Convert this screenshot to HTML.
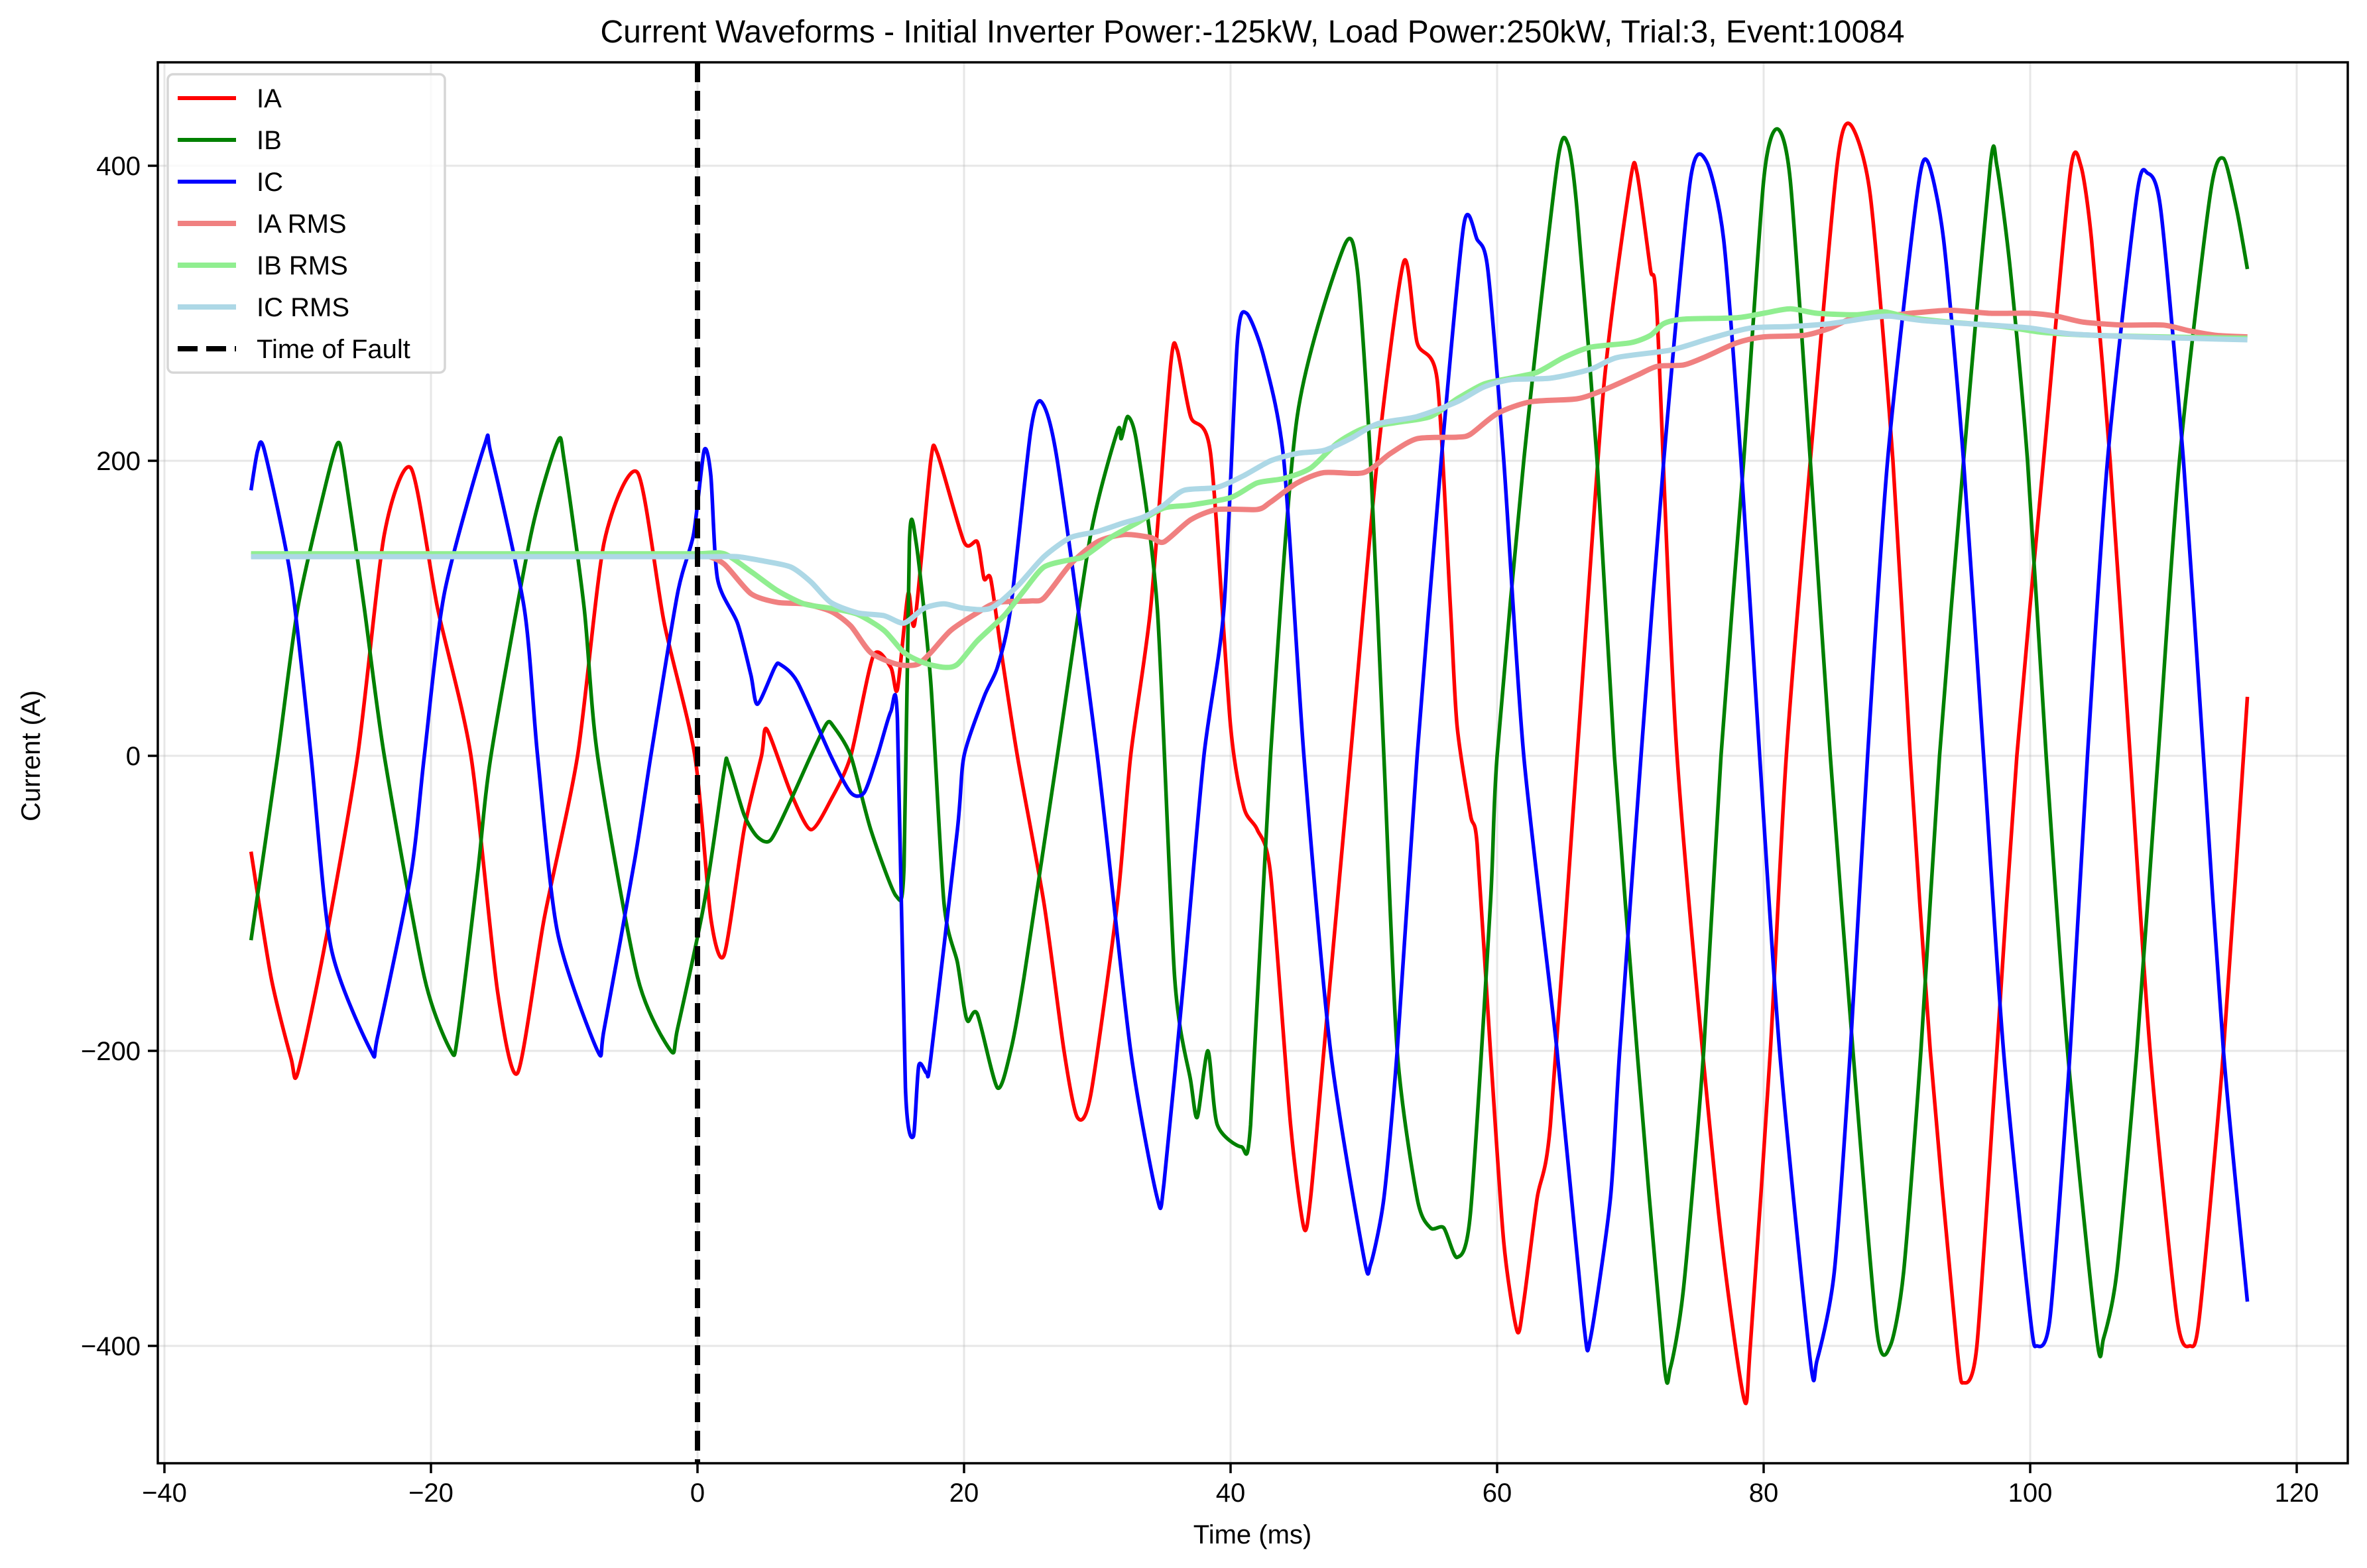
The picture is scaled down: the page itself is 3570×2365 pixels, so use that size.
<!DOCTYPE html>
<html><head><meta charset="utf-8"><style>
html,body{margin:0;padding:0;background:#fff}
svg{display:block;font-family:"Liberation Sans","DejaVu Sans",sans-serif}
</style></head><body>
<svg id="chart" width="3570" height="2365" viewBox="0 0 3570 2365" xmlns="http://www.w3.org/2000/svg">
<rect width="3570" height="2365" fill="#fff"/>
<g id="grid"></g>
<g id="plot" clip-path="url(#clip)"></g>
<defs><clipPath id="clip"><rect x="238" y="94" width="3303" height="2113"/></clipPath></defs>
<rect x="238" y="94" width="3303" height="2113" fill="none" stroke="#000" stroke-width="3.5"/>
<g id="ticks"></g>
<text x="1889" y="64" font-size="48" text-anchor="middle">Current Waveforms - Initial Inverter Power:-125kW, Load Power:250kW, Trial:3, Event:10084</text>
<text x="1889" y="2328" font-size="40" text-anchor="middle">Time (ms)</text>
<text x="60" y="1140" font-size="40" text-anchor="middle" transform="rotate(-90 60 1140)">Current (A)</text>
<g id="legend"></g>
</svg>
<script>
const xTicks=[-40,-20,0,20,40,60,80,100,120];
const yTicks=[-400,-200,0,200,400];
const faultTime=0;
const iaT=[-33.5,-32,-30.5,-30,-28,-25.5,-23.5,-21.5,-19.5,-17,-15,-13.5,-11.5,-9,-7,-4.5,-2.5,-0.2,1,2,3.5,4.8,5.2,7,8.5,10,11.5,13.2,14.5,15,15.8,16.3,17.5,18,20,21,21.5,22,22.8,24,26,27.5,28.5,29.5,31.5,32.5,34,35.5,36,37,38.5,40,41,42,43,44.5,45.5,46,47,49,51,53,54,55.5,56.5,57,58,58.5,59.5,60.5,61.5,62,63,64,66,68,70,70.5,71.5,72,73.5,76.5,78.5,79,80.5,81.7,83.5,85.5,86.5,88,89.7,91,92.5,94.5,95,96,97.5,99,101,103,103.8,104.6,106,107.5,109,111,112,112.7,114.5,116.3];
const iaV=[-65,-150,-205,-215,-130,0,150,195,100,0,-160,-215,-110,0,145,192,90,0,-110,-135,-50,0,18,-25,-50,-30,0,68,60,45,110,90,200,205,145,145,120,120,70,0,-100,-200,-245,-230,-100,0,100,265,275,230,205,20,-35,-50,-80,-250,-320,-300,-200,0,200,335,280,255,100,20,-40,-60,-200,-330,-390,-370,-300,-250,0,250,390,395,330,300,0,-300,-435,-400,-200,0,200,400,428,380,200,0,-200,-400,-425,-400,-200,0,200,395,400,350,200,0,-200,-380,-400,-380,-200,40];
const ibT=[-33.5,-31.5,-30,-28,-27,-26.5,-25,-23.5,-20.5,-18.5,-18,-16.5,-15.5,-12.5,-10.5,-10,-8.5,-7.5,-4.5,-2,-1.5,0.5,2,2.3,3.5,4.5,5.5,7,8.5,9.7,10.2,11.5,13,14.9,15.5,15.9,16.4,17.5,18.5,19.5,20,20.3,21,22.5,23.5,24.5,27,29.5,31.5,31.8,32.3,33,34.5,35.8,37,37.5,38.3,39,40.8,41.5,43,45,48.5,49.5,50.5,51.5,52.5,54,55,56,57,58,59.5,60,62,64.5,65.3,66,67.5,68.8,70.5,72.5,73,74,75.5,76.8,78.5,80,81,82,83.5,85,86.7,88.5,89.5,90.5,91.8,93.2,95,97,97.5,98.5,99.8,101.2,102.8,105,105.5,106.5,108,109.6,111.2,113.5,114.5,115.5,116.3];
const ibV=[-125,0,100,180,212,195,100,0,-150,-200,-190,-80,0,150,213,200,100,0,-150,-200,-185,-100,-10,-5,-40,-55,-57,-30,0,22,20,0,-50,-95,-75,145,145,50,-100,-140,-170,-180,-175,-225,-200,-150,0,150,220,215,230,210,100,-150,-220,-245,-200,-250,-265,-250,0,230,345,330,200,0,-200,-300,-320,-320,-340,-310,-100,0,200,400,415,370,200,0,-200,-410,-415,-360,-200,0,200,390,425,390,200,0,-200,-390,-400,-350,-200,0,200,400,400,330,200,0,-200,-395,-395,-350,-200,0,200,380,405,370,330];
const icT=[-33.5,-33,-32.5,-30.5,-29,-27.5,-24.5,-24,-21.5,-20.5,-19,-16,-15.5,-13,-12,-10.5,-7.5,-7,-4.7,-3.5,-1.5,-0.3,0.5,1,1.5,3,4,4.5,5.8,6.2,7.5,10,11.5,12.5,13.5,14.5,15,15.6,16.2,16.6,17.2,17.5,19.5,20,21.5,22.5,23.5,25,25.8,27,30,32.5,34.5,35,36.5,38,39.5,40.5,41.2,42.5,44,45.5,47.5,50,50.5,51.5,52.5,54,55.8,57.5,58.5,59.3,60.5,62,64.5,66.5,67,68.5,69.2,70.8,72.5,74.5,75.7,77,78.3,79.7,81.2,83.5,84,85.3,86.5,87.8,89.3,91.5,92.3,93.5,95,96.5,98,100,100.5,101.5,103,104.3,105.8,108,108.8,109.8,111.5,113,114.5,116.3];
const icV=[180,207,207,120,0,-130,-200,-190,-80,0,110,210,205,100,0,-120,-200,-185,-70,0,110,150,207,190,120,90,55,35,60,62,50,0,-25,-25,0,30,25,-225,-258,-210,-215,-205,-50,0,40,60,100,220,240,200,0,-200,-300,-290,-150,0,100,280,300,270,200,0,-200,-340,-345,-300,-200,0,200,360,350,330,200,0,-200,-385,-395,-300,-200,0,200,390,403,350,200,0,-200,-410,-410,-350,-200,0,200,380,403,350,200,0,-200,-380,-400,-380,-200,0,200,380,395,370,200,0,-200,-370];
const iaRmsT=[-33.5,-25,-15,-5,-1,0.5,2,4,6,8,10,11.5,13,15,16.5,17.5,19,21,22.5,25,26,28,30,32,34,35,37,39,42,43,45,47,50,52,54,57,58,60,62.5,66,68,70.5,72,74,75.5,78,80,83,85,87,89,91,94,97,100,102,104,107,110,112,114,116.3];
const iaRmsV=[136,136,136,136,136,136,130,110,104,103,98,88,70,62,62,70,85,97,104,105,107,130,145,150,148,145,160,167,167,172,185,192,192,205,215,216,218,232,240,242,248,258,264,265,270,280,284,285,290,298,298,300,302,300,300,298,294,292,292,288,285,284];
const ibRmsT=[-33.5,-25,-15,-5,0,2,4,6,8,10,12,14,15.5,17,18.5,19.5,21,23,24.5,26,28,29,31,33,35,37,40,42,44,46,48,50,52.5,55,57,59,61,63,65,67,70,71.5,72.5,74,78,80,82,84,87,89,91,94,98,101,105,110,116.3];
const ibRmsV=[137,137,137,137,137,137,125,112,103,100,96,85,70,63,60,62,78,95,112,128,133,135,148,158,168,170,175,185,188,195,212,222,226,230,242,252,256,260,270,277,280,285,293,296,297,300,303,300,299,301,297,294,291,287,285,284,283];
const icRmsT=[-33.5,-25,-15,-5,1,3,5,7,8.5,10,12,14,15.5,17,18.5,20,22,24,26,28,30,32,33.5,35,36.5,39,41,43,45,47,49,51,54,57,59,61,64,67,69,73,76,79,82,85,88,89.5,92,97,100,103,108,112,116.3];
const icRmsV=[135,135,135,135,135,135,132,128,118,104,97,95,90,100,103,100,100,115,135,148,152,158,162,170,180,182,190,200,205,207,215,225,230,240,250,255,256,262,270,275,283,290,291,293,297,298,295,292,290,286,284,283,282];

const X0=1052, XS=20.1, Y0=1140, YS=445/200;
const sx=t=>X0+t*XS, sy=v=>Y0-v*YS;
const NS='http://www.w3.org/2000/svg';
function mk(tag,attrs,parent){const e=document.createElementNS(NS,tag);for(const k in attrs)e.setAttribute(k,attrs[k]);parent.appendChild(e);return e;}
function pathFrom(T,V){
  const p=T.map((t,i)=>[sx(t),sy(V[i])]);
  let d='M'+p[0][0].toFixed(1)+','+p[0][1].toFixed(1);
  for(let i=0;i<p.length-1;i++){
    const p0=p[i-1]||p[i],p1=p[i],p2=p[i+1],p3=p[i+2]||p2;
    const c1=[p1[0]+(p2[0]-p0[0])/8,p1[1]+(p2[1]-p0[1])/8];
    const c2=[p2[0]-(p3[0]-p1[0])/8,p2[1]-(p3[1]-p1[1])/8];
    d+='C'+c1[0].toFixed(1)+','+c1[1].toFixed(1)+' '+c2[0].toFixed(1)+','+c2[1].toFixed(1)+' '+p2[0].toFixed(1)+','+p2[1].toFixed(1);
  }
  return d;
}
const grid=document.getElementById('grid'),ticks=document.getElementById('ticks'),plot=document.getElementById('plot');
const AX_L=238,AX_R=3541,AX_T=94,AX_B=2207;
xTicks.forEach(t=>{
  const g=mk('line',{x1:sx(t),x2:sx(t),y1:AX_T,y2:AX_B,stroke:'#b0b0b0','stroke-opacity':0.3,'stroke-width':3},grid);
  
  const tk=mk('line',{x1:sx(t),x2:sx(t),y1:AX_B,y2:AX_B+15,stroke:'#000','stroke-width':3.5},ticks);
  
  const tx=mk('text',{x:sx(t),y:AX_B+58,'font-size':40,'text-anchor':'middle'},ticks);
  
  tx.textContent=(t<0?'\u2212':'')+Math.abs(t);
});
yTicks.forEach(v=>{
  const g=mk('line',{x1:AX_L,x2:AX_R,y1:sy(v),y2:sy(v),stroke:'#b0b0b0','stroke-opacity':0.3,'stroke-width':3},grid);
  
  const tk=mk('line',{x1:AX_L-15,x2:AX_L,y1:sy(v),y2:sy(v),stroke:'#000','stroke-width':3.5},ticks);
  
  const tx=mk('text',{x:AX_L-26,y:sy(v)+14,'font-size':40,'text-anchor':'end'},ticks);
  
  tx.textContent=(v<0?'\u2212':'')+Math.abs(v);
});
const series=[
  ['ia-line',iaT,iaV,'#ff0000',5.5],
  ['ib-line',ibT,ibV,'#008000',5.5],
  ['ic-line',icT,icV,'#0000ff',5.5],
  ['ia-rms-line',iaRmsT,iaRmsV,'#f08080',8],
  ['ib-rms-line',ibRmsT,ibRmsV,'#90ee90',8],
  ['ic-rms-line',icRmsT,icRmsV,'#add8e6',8]];
series.forEach(s=>{
  const p=mk('path',{d:pathFrom(s[1],s[2]),fill:'none',stroke:s[3],'stroke-width':s[4],'stroke-linejoin':'round'},plot);
  
});
const fl=mk('line',{x1:sx(faultTime),x2:sx(faultTime),y1:AX_T,y2:AX_B,stroke:'#000','stroke-width':8,'stroke-dasharray':'30,13'},plot);

const lg=document.getElementById('legend');
const box=mk('rect',{x:253,y:112,width:418,height:450,rx:8,fill:'#fff','fill-opacity':0.8,stroke:'#d6d6d6','stroke-width':3.5},lg);

const labels=['IA','IB','IC','IA RMS','IB RMS','IC RMS','Time of Fault'];
const cols=['#ff0000','#008000','#0000ff','#f08080','#90ee90','#add8e6','#000'];
labels.forEach((l,i)=>{
  const y=148+i*63;
  const ln=mk('line',{x1:268,x2:356,y1:y,y2:y,stroke:cols[i],'stroke-width':i<3?6:8},lg);
  if(i==6)ln.setAttribute('stroke-dasharray','30,13');
  
  const t=mk('text',{x:387,y:y+14,'font-size':40},lg);
  
  t.textContent=l;
});
</script>
</body></html>
